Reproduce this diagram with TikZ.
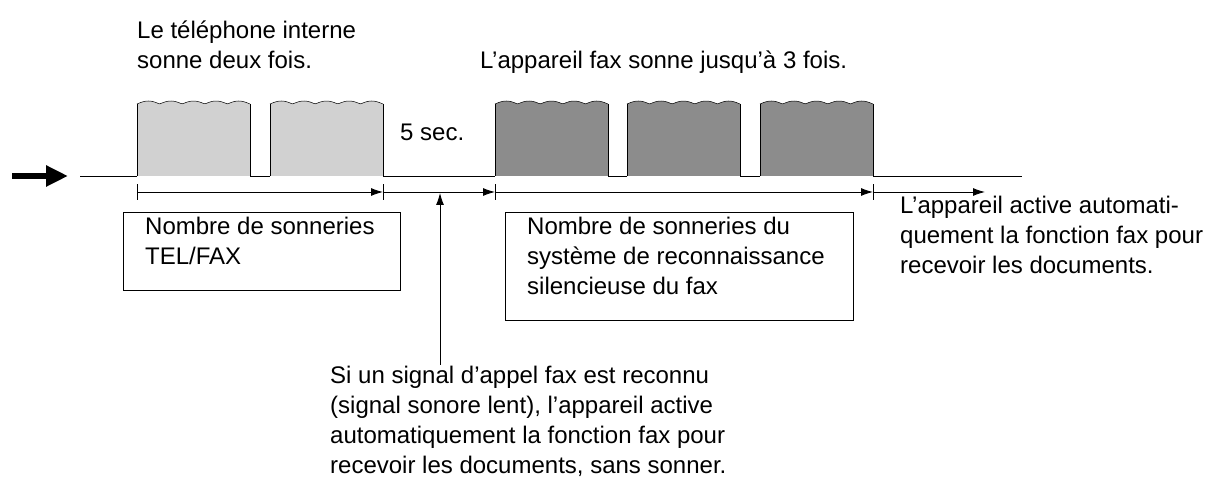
\documentclass[tikz,border=0pt]{standalone}
\usepackage{fontspec}
\setmainfont{Liberation Sans}
\usetikzlibrary{arrows.meta}
\begin{document}
\begin{tikzpicture}[x=1pt,y=1pt,
  txt/.style={inner sep=0pt,anchor=north west,align=left,font=\fontsize{24}{30}\selectfont},
  bx/.style={draw,line width=0.9pt,anchor=north west,inner sep=0pt},
  tl/.style={line width=0.9pt,-{Latex[length=12pt,width=8pt]}},
  tick/.style={line width=0.9pt}]
\useasboundingbox (0,0) rectangle (1232,479);
\newcommand{\pulse}[3]{%
  \fill[#3] (#1,303) -- plot[domain=0:1,samples=80] ({#1+(#2-#1)*\x},{375+3*abs(sin(900*\x))}) -- (#2,303) -- cycle;
  \draw[line width=0.8pt] (#1,303) -- (#1,375);
  \draw[line width=0.8pt] (#2,303) -- (#2,375);
  \draw[line width=0.5pt] plot[domain=0:1,samples=80] ({#1+(#2-#1)*\x},{375+3*abs(sin(900*\x))});}
\pulse{137}{250}{black!18}
\pulse{270}{383}{black!18}
\pulse{495}{608}{black!45}
\pulse{627}{740}{black!45}
\pulse{760}{873}{black!45}
\draw[line width=0.9pt] (80,303) -- (137,303) (250,303) -- (270,303) (383,303) -- (495,303) (608,303) -- (627,303) (740,303) -- (760,303) (873,303) -- (1022,303);
% entry arrow
\coordinate (ea) at (12,303); \coordinate (eb) at (68,303);
\draw[line width=6pt,-{Triangle[length=22pt,width=20pt]}] (ea) -- (eb);
% timeline
\coordinate (t0) at (137,287); \coordinate (t1) at (383,287);
\coordinate (t2) at (495,287); \coordinate (t3) at (873,287);
\coordinate (t4) at (985,287);
\foreach \t in {t0,t1,t2,t3} \draw[tick] ([yshift=-8pt]\t) -- ([yshift=8pt]\t);
\draw[tl] (t0) -- (t1);
\draw[tl] (t1) -- (t2);
\draw[tl] (t2) -- (t3);
\draw[tl] (t3) -- (t4);
% texts
\node[txt] (top1) at (137,458) {Le téléphone interne\\sonne deux fois.};
\node[txt] (top2) at (480,428) {L’appareil fax sonne jusqu’à 3 fois.};
\node[txt] (five) at (400,355) {5 sec.};
\node[bx,minimum width=277pt,minimum height=78pt] (b1) at (123,267) {};
\node[txt] (b1t) at (145,262) {Nombre de sonneries\\TEL/FAX};
\node[bx,minimum width=348pt,minimum height=108pt] (b2) at (505,267) {};
\node[txt] (b2t) at (527,262) {Nombre de sonneries du\\système de reconnaissance\\silencieuse du fax};
\node[txt] (rt) at (900,283) {L’appareil active automati-\\quement la fonction fax pour\\recevoir les documents.};
\node[txt] (bt) at (330,113) {Si un signal d’appel fax est reconnu\\(signal sonore lent), l’appareil active\\automatiquement la fonction fax pour\\recevoir les documents, sans sonner.};
\coordinate (va) at (440,114); \coordinate (vb) at (440,286);
\draw[tl] (va) -- (vb);
\end{tikzpicture}
\end{document}
